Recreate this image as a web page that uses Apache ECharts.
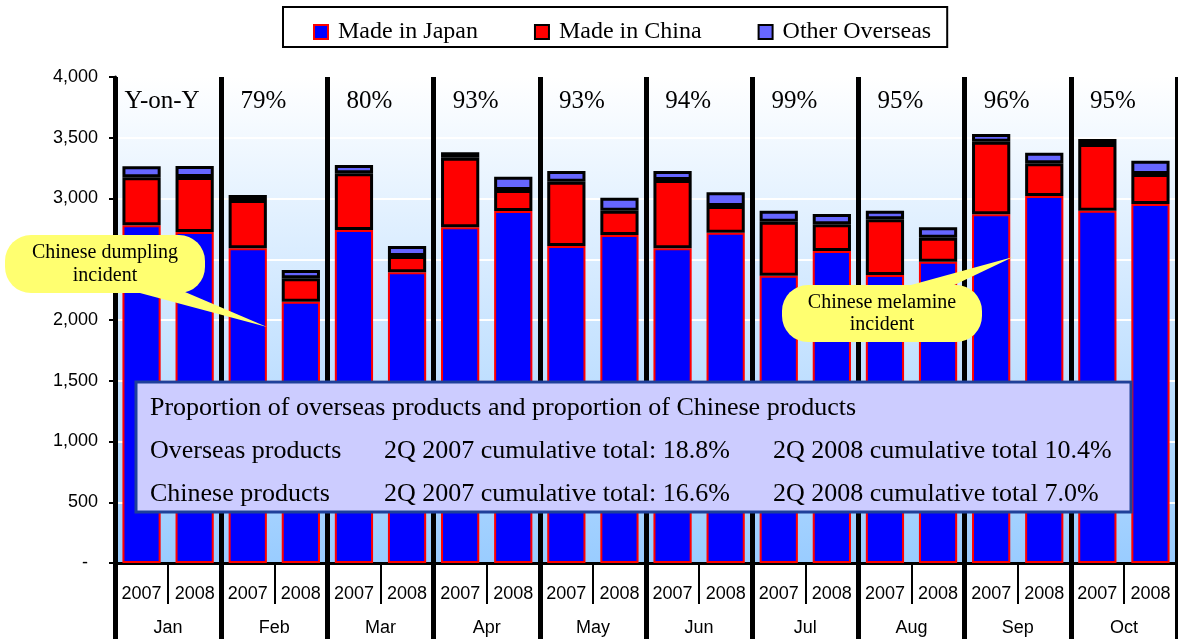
<!DOCTYPE html>
<html>
<head>
<meta charset="utf-8">
<script src="https://cdn.jsdelivr.net/npm/echarts@6/dist/echarts.min.js"></script>
<style>
  html, body { margin: 0; padding: 0; background: #ffffff; }
  #chart { width: 1178px; height: 639px; }
</style>
</head>
<body>
<div id="chart"></div>
<script>
// Monthly domestic shipments split by origin, 2007 vs 2008
const months = ['Jan', 'Feb', 'Mar', 'Apr', 'May', 'Jun', 'Jul', 'Aug', 'Sep', 'Oct'];
const years = ['2007', '2008'];
const madeInJapan = [2780, 2725, 2590, 2150, 2740, 2392, 2763, 2897, 2609, 2699, 2590, 2718, 2364, 2568, 2370, 2480, 2870, 3020, 2900, 2955];
const madeInChina = [395, 452, 398, 193, 467, 135, 573, 173, 529, 201, 562, 220, 445, 220, 459, 197, 598, 270, 548, 247];
const otherOverseas = [90, 90, 41, 68, 69, 82, 44, 109, 88, 107, 74, 113, 91, 84, 71, 86, 63, 87, 42, 109];
const yoyLabels = ['Y-on-Y', '79%', '80%', '93%', '93%', '94%', '99%', '95%', '96%', '95%'];

const SERIF = '"Liberation Serif", "Times New Roman", serif';
const SANS = '"Liberation Sans", Arial, sans-serif';
const TOP = 200; // drawing order for overlays

// one category per (month, year) pair
const categories = [];
months.forEach(() => years.forEach(y => categories.push(y)));

const chart = echarts.init(document.getElementById('chart'), null, { renderer: 'canvas' });

function calloutText(x, y, text) {
  return {
    type: 'text', x, y, z: TOP + 2,
    style: { text, fontFamily: SERIF, fontSize: 20, fill: '#000', align: 'center', verticalAlign: 'middle' }
  };
}
function boxText(x, y, text) {
  return {
    type: 'text', x, y, z: TOP + 2,
    style: { text, fontFamily: SERIF, fontSize: 26, fill: '#000', verticalAlign: 'middle' }
  };
}

const option = {
  animation: false,
  backgroundColor: '#ffffff',
  grid: {
    left: 115, right: 1, top: 77, bottom: 76,
    show: true,
    borderColor: '#8c8c8c',
    borderWidth: 1,
    backgroundColor: {
      type: 'linear', x: 0, y: 0, x2: 0, y2: 1,
      colorStops: [{ offset: 0, color: '#ffffff' }, { offset: 1, color: '#99ccff' }]
    }
  },
  legend: {
    left: 283, top: 7,
    orient: 'horizontal',
    borderColor: '#000', borderWidth: 2,
    padding: [13, 16, 3, 30],
    itemGap: 56, itemWidth: 14, itemHeight: 14,
    textStyle: { fontFamily: SERIF, fontSize: 24, color: '#000', padding: [4, 0, 0, 5] },
    data: [
      { name: 'Made in Japan', icon: 'rect', itemStyle: { color: '#0000ff', borderColor: '#ff0000', borderWidth: 2 } },
      { name: 'Made in China', icon: 'rect', itemStyle: { color: '#ff0000', borderColor: '#000000', borderWidth: 2 } },
      { name: 'Other Overseas', icon: 'rect', itemStyle: { color: '#6666ff', borderColor: '#000000', borderWidth: 2 } }
    ]
  },
  xAxis: [
    {
      type: 'category', data: categories, position: 'bottom',
      axisLine: { show: true, lineStyle: { color: '#000', width: 3 } },
      axisTick: { show: true, interval: 0, length: 41, lineStyle: { color: '#000', width: 2 } },
      axisLabel: { interval: 0, margin: 22, fontFamily: SANS, fontSize: 18, color: '#000' },
      splitLine: { show: false }
    },
    {
      type: 'category', data: months, position: 'bottom',
      axisLine: { show: false },
      axisTick: { show: true, interval: 0, length: 76, lineStyle: { color: '#000', width: 5 } },
      axisLabel: { interval: 0, margin: 56, fontFamily: SANS, fontSize: 18, color: '#000' },
      splitLine: { show: true, interval: 0, lineStyle: { color: '#000', width: 5 } }
    }
  ],
  yAxis: {
    type: 'value', min: 0, max: 4000, interval: 500,
    axisLine: { show: true, lineStyle: { color: '#000', width: 3 } },
    axisTick: { show: true, length: 6, lineStyle: { color: '#000', width: 2 } },
    axisLabel: {
      margin: 17, fontFamily: SANS, fontSize: 18, color: '#000',
      formatter: v => (v === 0 ? '-  ' : v.toLocaleString('en-US'))
    },
    splitLine: { show: true, lineStyle: { color: '#ffffff', width: 2 } }
  },
  series: [
    {
      name: 'Made in Japan', type: 'bar', stack: 'total', barWidth: '72%',
      data: madeInJapan,
      itemStyle: { color: '#0000ff', borderColor: '#ff0000', borderWidth: 2 }
    },
    {
      name: 'Made in China', type: 'bar', stack: 'total', barWidth: '72%',
      data: madeInChina,
      itemStyle: { color: '#ff0000', borderColor: '#000000', borderWidth: 3 }
    },
    {
      name: 'Other Overseas', type: 'bar', stack: 'total', barWidth: '72%',
      data: otherOverseas,
      itemStyle: { color: '#6666ff', borderColor: '#000000', borderWidth: 3 }
    },
    {
      // year-on-year ratio written above each month
      type: 'custom', xAxisIndex: 1, yAxisIndex: 0, silent: true, z: 5,
      data: yoyLabels.map((t, i) => [i, 4000]),
      renderItem: (params, api) => {
        const i = api.value(0);
        const p = api.coord([i, api.value(1)]);
        return {
          type: 'text',
          x: p[0] + (i === 0 ? -6 : -11),
          y: p[1] + 24,
          style: {
            text: yoyLabels[i],
            fontFamily: SERIF, fontSize: 25, fill: '#000',
            align: 'center', verticalAlign: 'middle'
          }
        };
      }
    }
  ],
  graphic: [
    // callout: dumpling incident
    { type: 'polygon', z: TOP, shape: { points: [[125, 289], [178, 289], [267, 327]] }, style: { fill: '#ffff70' } },
    { type: 'rect', z: TOP + 1, shape: { x: 5, y: 235, width: 200, height: 58, r: 26 }, style: { fill: '#ffff70' } },
    calloutText(105, 253, 'Chinese dumpling'),
    calloutText(105, 276, 'incident'),
    // callout: melamine incident
    { type: 'polygon', z: TOP, shape: { points: [[900, 288], [948, 288], [1013, 257]] }, style: { fill: '#ffff70' } },
    { type: 'rect', z: TOP + 1, shape: { x: 782, y: 285, width: 200, height: 57, r: 26 }, style: { fill: '#ffff70' } },
    calloutText(882, 303, 'Chinese melamine'),
    calloutText(882, 325, 'incident'),
    // summary box
    { type: 'rect', z: TOP + 1, shape: { x: 136, y: 382, width: 995, height: 130 }, style: { fill: '#ccccff', stroke: '#1f4099', lineWidth: 3 } },
    boxText(150, 408, 'Proportion of overseas products and proportion of Chinese products'),
    boxText(150, 451, 'Overseas products'),
    boxText(384, 451, '2Q 2007 cumulative total: 18.8%'),
    boxText(773, 451, '2Q 2008 cumulative total 10.4%'),
    boxText(150, 494, 'Chinese products'),
    boxText(384, 494, '2Q 2007 cumulative total: 16.6%'),
    boxText(773, 494, '2Q 2008 cumulative total 7.0%')
  ]
};

chart.setOption(option);
</script>
</body>
</html>
